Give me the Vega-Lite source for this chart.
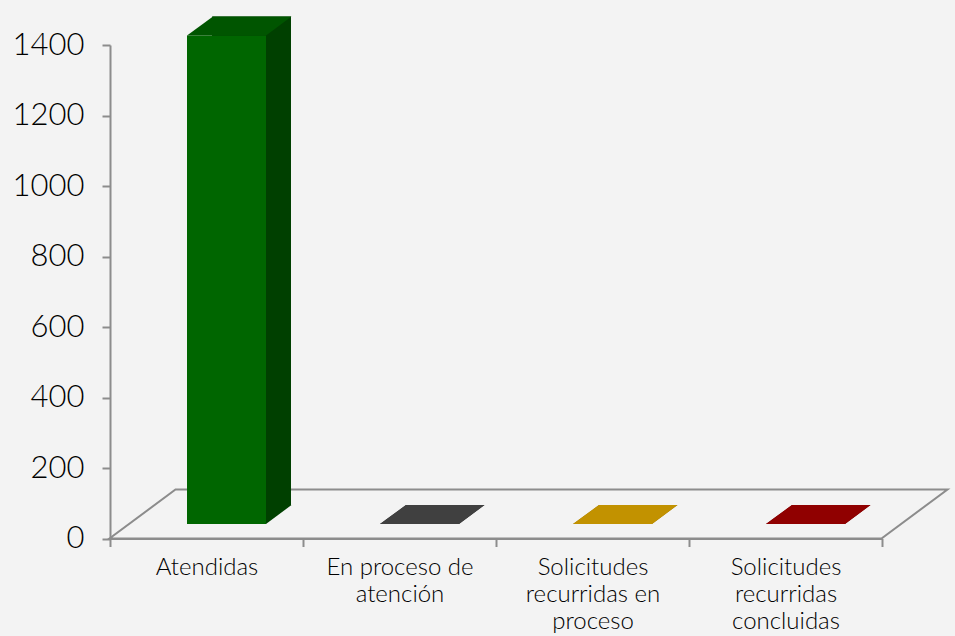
{
  "$schema": "https://vega.github.io/schema/vega-lite/v6.json",
  "width": 772,
  "height": 493.5,
  "autosize": "none",
  "padding": {"left": 110, "top": 45, "right": 73, "bottom": 97.5},
  "background": "#f3f3f3",
  "config": {"view": {"stroke": null}},
  "data": {"values": [
    {"categoria": "Atendidas", "valor": 1386},
    {"categoria": "En proceso de atención", "valor": 0},
    {"categoria": "Solicitudes recurridas en proceso", "valor": 0},
    {"categoria": "Solicitudes recurridas concluidas", "valor": 0}
  ]},
  "encoding": {
    "x": {
      "field": "categoria", "type": "nominal", "sort": null,
      "scale": {"domain": ["Atendidas", "En proceso de atención", "Solicitudes recurridas en proceso", "Solicitudes recurridas concluidas"], "paddingInner": 0, "paddingOuter": 0},
      "axis": {
        "title": null, "labelAngle": 0, "labelFont": "Lato", "labelFontSize": 24, "labelFontWeight": 300,
        "labelColor": "#000000", "labelLineHeight": 27, "labelPadding": 9, "labelLimit": 300,
        "tickBand": "extent", "tickSize": 8, "tickColor": "#8c8c8c", "tickWidth": 2,
        "domainColor": "#8c8c8c", "domainWidth": 2,
        "labelExpr": "datum.value == 'En proceso de atención' ? ['En proceso de', 'atención'] : datum.value == 'Solicitudes recurridas en proceso' ? ['Solicitudes', 'recurridas en', 'proceso'] : datum.value == 'Solicitudes recurridas concluidas' ? ['Solicitudes', 'recurridas', 'concluidas'] : datum.value"
      }
    },
    "y": {
      "field": "valor", "type": "quantitative",
      "scale": {"domain": [0, 1400], "nice": false},
      "axis": {
        "title": null, "values": [0, 200, 400, 600, 800, 1000, 1200, 1400], "format": "d", "grid": false,
        "labelFont": "Lato", "labelFontSize": 31, "labelFontWeight": 300, "labelColor": "#000000", "labelPadding": 18,
        "tickSize": 8, "tickColor": "#8c8c8c", "tickWidth": 2,
        "domainColor": "#8c8c8c", "domainWidth": 2
      }
    }
  },
  "layer": [
    {
      "transform": [{"filter": "datum.categoria == 'Solicitudes recurridas en proceso'"}],
      "mark": {"type": "point", "shape": "M -483 0 L 289 0 L 355 -49 L -417 -49 Z", "size": 4, "filled": false, "fill": null, "stroke": "#8c8c8c", "strokeWidth": 2, "opacity": 1},
      "encoding": {"y": {"datum": 0, "type": "quantitative"}}
    },
    {
      "mark": {"type": "bar", "width": 79, "xOffset": 45, "x2Offset": 45, "yOffset": -33.5, "y2Offset": -33.5},
      "encoding": {"color": {"field": "categoria", "type": "nominal", "legend": null,
        "scale": {"domain": ["Atendidas", "En proceso de atención", "Solicitudes recurridas en proceso", "Solicitudes recurridas concluidas"], "range": ["#004000", "#303030", "#9a7400", "#700000"]}}}
    },
    {
      "mark": {"type": "point", "shape": "M -39.5 0 L 39.5 0 L 65 -19 L -13.5 -19 Z", "size": 4, "filled": true, "opacity": 1, "xOffset": 20, "yOffset": -14.5},
      "encoding": {"y": {"datum": 0, "type": "quantitative"},
        "color": {"field": "categoria", "type": "nominal", "legend": null,
        "scale": {"domain": ["Atendidas", "En proceso de atención", "Solicitudes recurridas en proceso", "Solicitudes recurridas concluidas"], "range": ["#004000", "#303030", "#9a7400", "#700000"]}}}
    },
    {
      "mark": {"type": "bar", "width": 79, "xOffset": 20, "x2Offset": 20, "yOffset": -14.5, "y2Offset": -14.5},
      "encoding": {"color": {"field": "categoria", "type": "nominal", "legend": null,
        "scale": {"domain": ["Atendidas", "En proceso de atención", "Solicitudes recurridas en proceso", "Solicitudes recurridas concluidas"], "range": ["#006600", "#4a4a4a", "#d09c00", "#c00000"]}}}
    },
    {
      "mark": {"type": "point", "shape": "M -39.5 0 L 39.5 0 L 65 -19 L -13.5 -19 Z", "size": 4, "filled": true, "opacity": 1, "xOffset": 20, "yOffset": -14.5},
      "encoding": {"color": {"field": "categoria", "type": "nominal", "legend": null,
        "scale": {"domain": ["Atendidas", "En proceso de atención", "Solicitudes recurridas en proceso", "Solicitudes recurridas concluidas"], "range": ["#005500", "#404040", "#c29200", "#900000"]}}}
    }
  ],
  "resolve": {"scale": {"color": "independent"}}
}
